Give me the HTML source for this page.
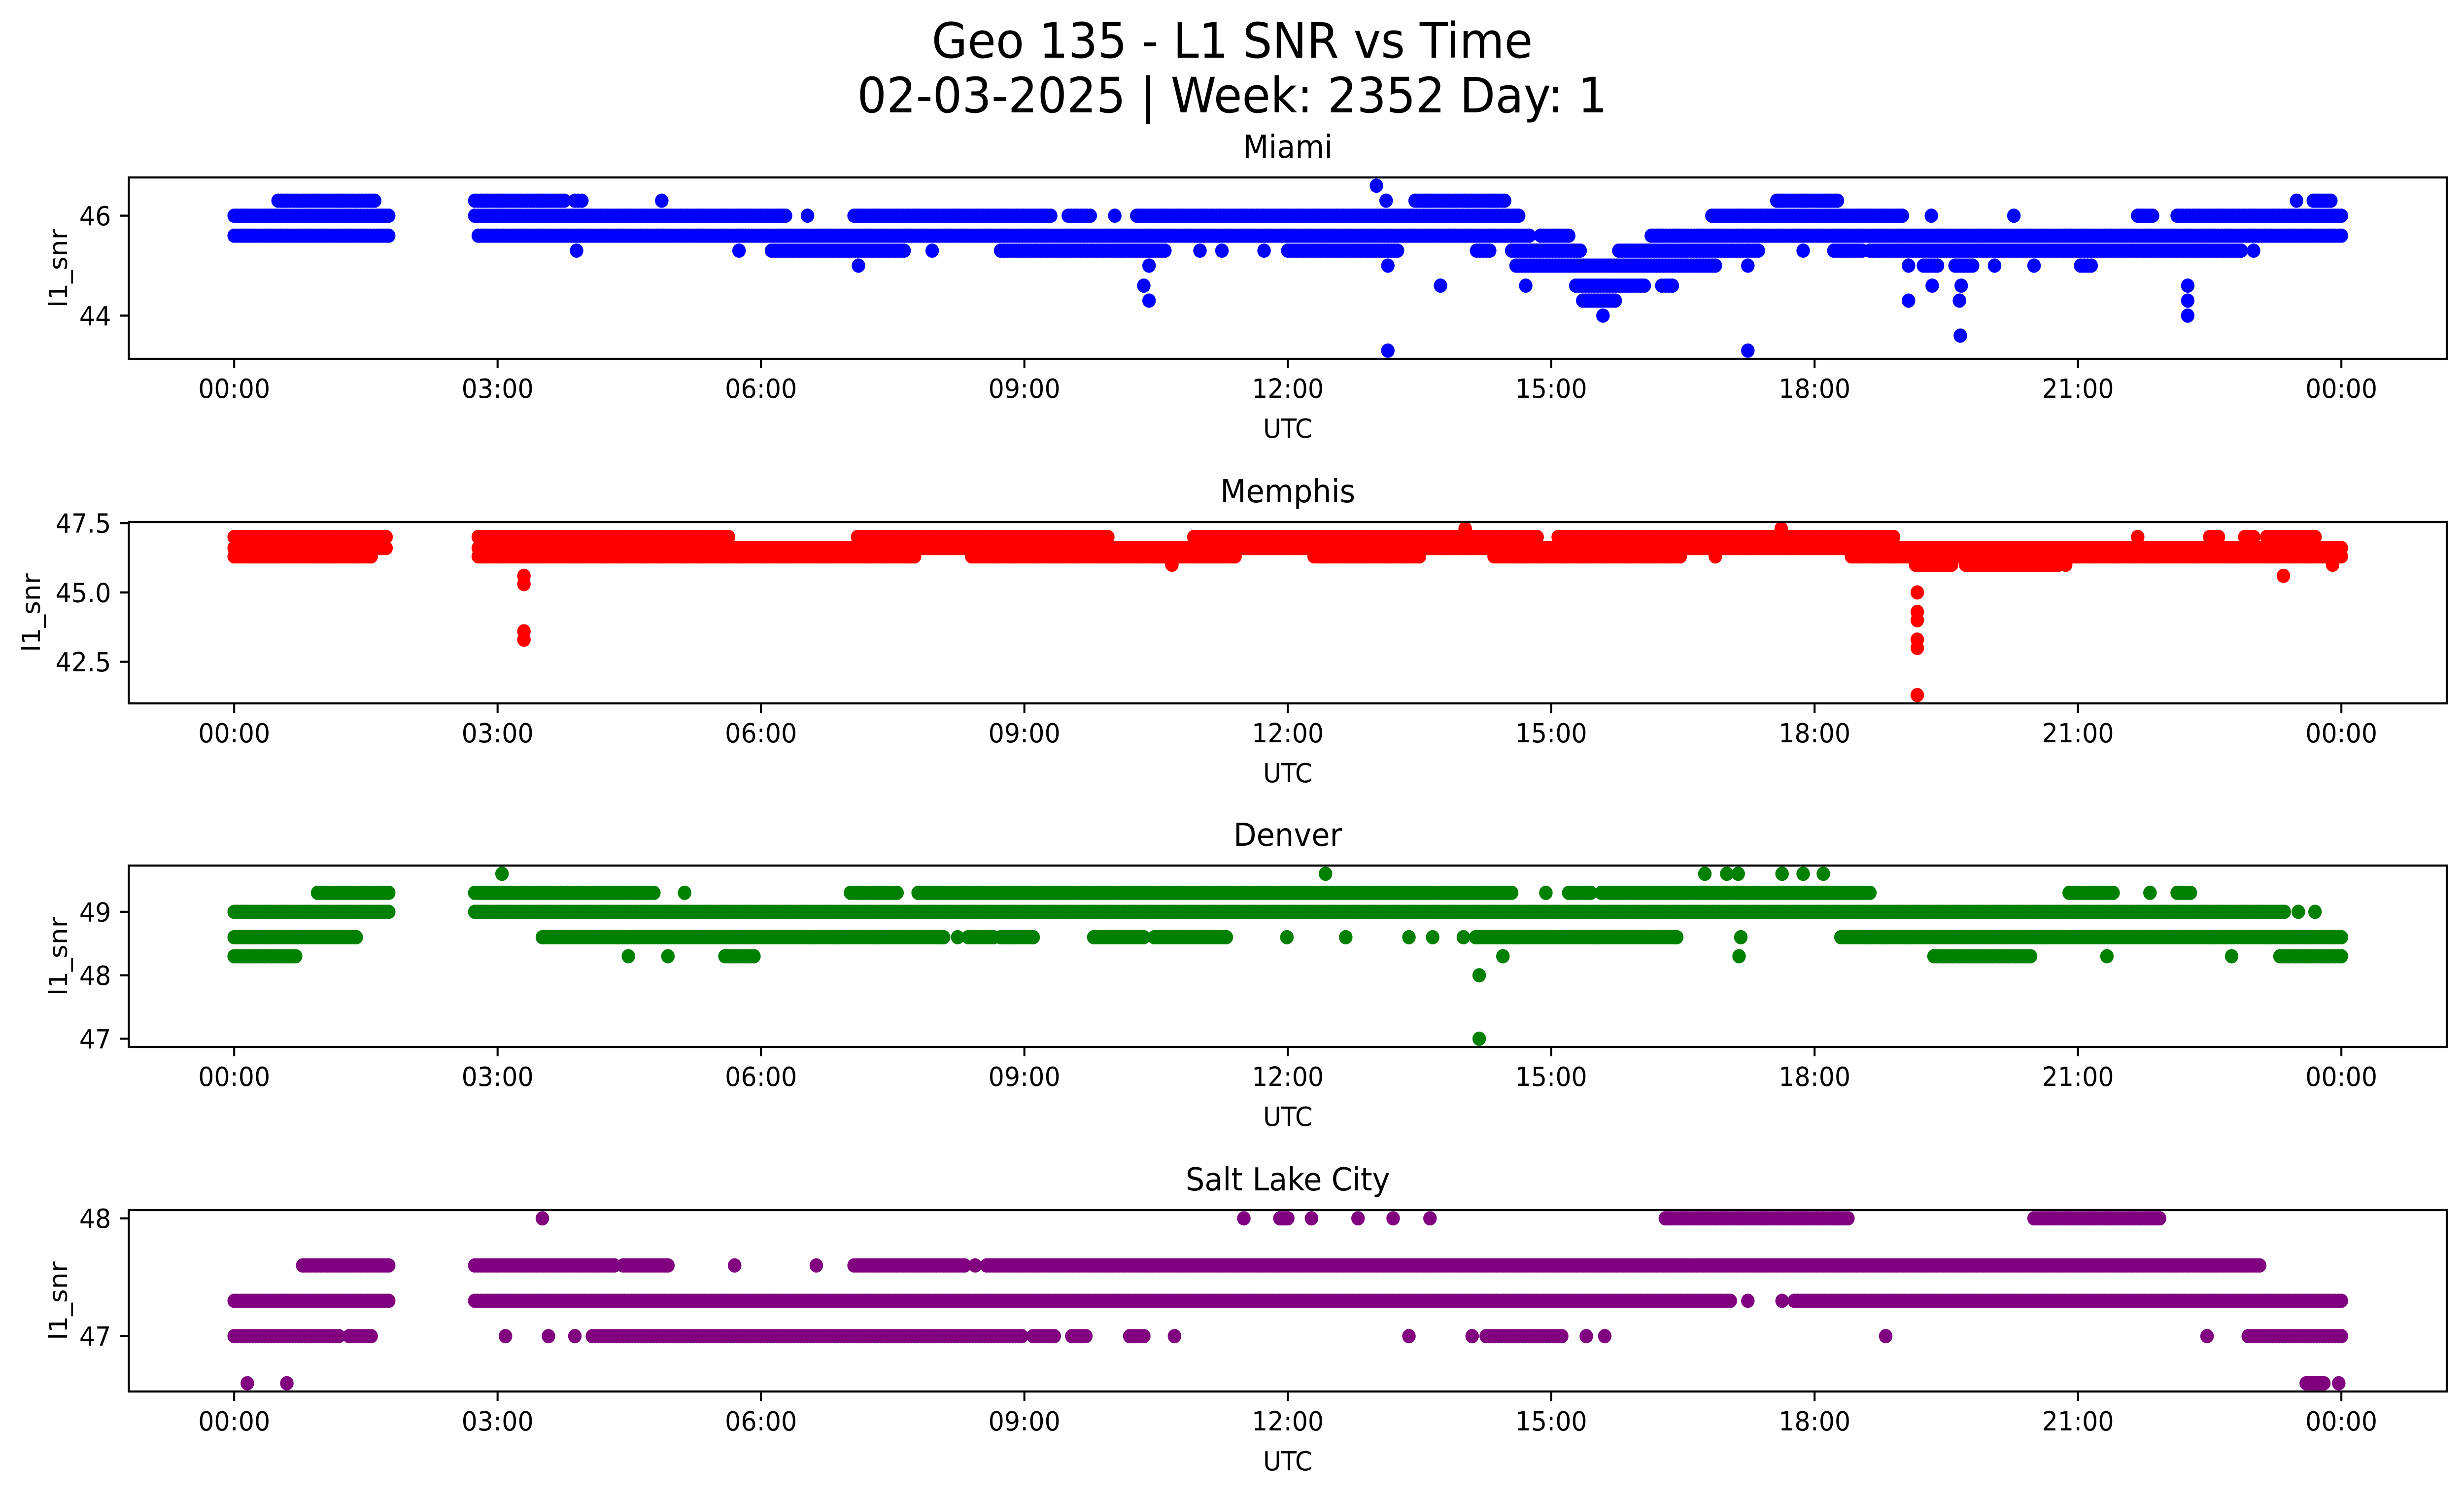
<!DOCTYPE html>
<html><head><meta charset="utf-8"><title>Geo 135 - L1 SNR vs Time</title>
<style>
html,body{margin:0;padding:0;background:#fff;overflow:hidden;width:100%;height:100%;}
svg{display:block;width:100vw;height:100vh;font-family:"DejaVu Sans","Liberation Sans",sans-serif;}
</style></head>
<body>
<svg id="fig" xmlns="http://www.w3.org/2000/svg" viewBox="0 0 5279 3033" preserveAspectRatio="none">
<rect x="0" y="0" width="5279" height="3033" fill="#fff"/>
<text x="2640" y="117" font-size="99" text-anchor="middle" fill="#000">Geo 135 - L1 SNR vs Time</text>
<text x="2640" y="228" font-size="99" text-anchor="middle" fill="#000">02-03-2025 | Week: 2352 Day: 1</text>
</svg>
<script>
// ---- Data (hours UTC, SNR dB) ----
const xTickHours = [0,3,6,9,12,15,18,21,24];
const xTickLabels = ["00:00","03:00","06:00","09:00","12:00","15:00","18:00","21:00","00:00"];

const miamiStart = [0.5,2.74,3.88,4.87,13.12,13.45,17.57,23.49,23.68, 13.01,
 0,2.74,6.53,7.06,9.5,10.03,10.28,16.83,19.33,20.27,21.68,22.13,
 0,2.78,14.88,16.14,
 3.9,5.75,6.12,7.95,8.73,11.0,11.25,11.73,12.0,14.15,14.55,15.77,17.87,18.22,18.63,23.0,
 7.11,10.42,13.14,14.6,17.24,19.07,19.24,19.6,20.05,20.5,21.03,
 10.36,13.74,14.71,15.28,16.26,19.34,19.67,22.25,
 10.42,15.36,19.07,19.65,22.25,
 15.59,22.25, 19.66, 13.14,17.24];
const miamiEnd = [1.6,3.76,3.96,4.87,13.12,14.47,18.26,23.49,23.88, 13.01,
 1.76,6.28,6.53,9.3,9.75,10.03,14.63,19.0,19.33,20.27,21.85,24.0,
 1.76,14.75,15.2,24.0,
 3.9,5.75,7.63,7.95,10.6,11.0,11.25,11.73,13.25,14.3,15.33,17.36,17.87,18.54,22.86,23.0,
 7.11,10.42,13.14,16.87,17.24,19.07,19.4,19.8,20.05,20.5,21.15,
 10.36,13.74,14.71,16.06,16.38,19.34,19.67,22.25,
 10.42,15.73,19.07,19.65,22.25,
 15.59,22.25, 19.66, 13.14,17.24];
const miamiValue = [46.3,46.3,46.3,46.3,46.3,46.3,46.3,46.3,46.3, 46.6,
 46.0,46.0,46.0,46.0,46.0,46.0,46.0,46.0,46.0,46.0,46.0,46.0,
 45.6,45.6,45.6,45.6,
 45.3,45.3,45.3,45.3,45.3,45.3,45.3,45.3,45.3,45.3,45.3,45.3,45.3,45.3,45.3,45.3,
 45.0,45.0,45.0,45.0,45.0,45.0,45.0,45.0,45.0,45.0,45.0,
 44.6,44.6,44.6,44.6,44.6,44.6,44.6,44.6,
 44.3,44.3,44.3,44.3,44.3,
 44.0,44.0, 43.6, 43.3,43.3];

const memphisStart = [14.02,17.62,
 0,2.78,7.1,10.93,15.08,21.68,22.5,22.9,23.15,
 0,2.78,
 0,2.78,8.4,12.3,14.35,16.87,18.42,
 10.68,19.15,19.72,20.86,23.9,
 23.34,3.3, 3.3, 19.17,19.17,19.17,3.3,3.3,19.17,19.17,19.17];
const memphisEnd = [14.02,17.62,
 1.73,5.63,9.95,14.84,18.9,21.68,22.6,23.0,23.7,
 1.73,24.0,
 1.56,7.75,11.4,13.5,16.47,16.87,24.0,
 10.68,19.56,20.78,20.86,23.9,
 23.34,3.3, 3.3, 19.17,19.17,19.17,3.3,3.3,19.17,19.17,19.17];
const memphisValue = [47.3,47.3,
 47.0,47.0,47.0,47.0,47.0,47.0,47.0,47.0,47.0,
 46.6,46.6,
 46.3,46.3,46.3,46.3,46.3,46.3,46.3,
 46.0,46.0,46.0,46.0,46.0,
 45.6,45.6, 45.3, 45.0,44.3,44.0,43.6,43.3,43.3,43.0,41.3];

const denverStart = [3.05,12.43,16.75,17.0,17.13,17.63,17.87,18.1,
 0.95,2.74,5.13,7.02,7.79,14.94,15.2,15.57,20.9,21.82,22.13,
 0,2.74,23.51,23.7,
 0,3.51,8.24,8.36,8.73,9.79,10.48,11.99,12.66,13.38,13.65,14.0,14.14,17.16,18.3,
 0,4.49,4.94,5.59,14.45,17.14,19.36,21.33,22.75,23.3,
 14.18,14.18];
const denverEnd = [3.05,12.43,16.75,17.0,17.13,17.63,17.87,18.1,
 1.76,4.78,5.13,7.55,14.55,14.94,15.45,18.63,21.4,21.82,22.28,
 1.76,23.35,23.51,23.7,
 1.39,8.08,8.24,8.65,9.1,10.36,11.3,12.0,12.66,13.38,13.65,14.0,16.43,17.16,24.0,
 0.7,4.49,4.94,5.92,14.45,17.14,20.46,21.33,22.75,24.0,
 14.18,14.18];
const denverValue = [49.6,49.6,49.6,49.6,49.6,49.6,49.6,49.6,
 49.3,49.3,49.3,49.3,49.3,49.3,49.3,49.3,49.3,49.3,49.3,
 49.0,49.0,49.0,49.0,
 48.6,48.6,48.6,48.6,48.6,48.6,48.6,48.6,48.6,48.6,48.6,48.6,48.6,48.6,48.6,
 48.3,48.3,48.3,48.3,48.3,48.3,48.3,48.3,48.3,48.3,
 48.0,47.0];

const slcStart = [3.51,11.5,11.91,12.27,12.8,13.2,13.62,16.3,20.5,
 0.78,2.74,4.43,5.7,6.63,7.06,8.44,8.57,
 0,2.74,17.24,17.63,17.77,
 0,1.31,3.09,3.58,3.88,4.08,9.1,9.54,10.2,10.71,13.38,14.1,14.26,15.4,15.61,18.81,22.47,22.94,
 0.15,0.6,23.6,23.97];
const slcEnd = [3.51,11.5,12.0,12.27,12.8,13.2,13.62,18.38,21.93,
 1.76,4.33,4.94,5.7,6.63,8.32,8.44,23.07,
 1.76,17.04,17.24,17.63,24.0,
 1.19,1.56,3.09,3.58,3.88,8.97,9.34,9.7,10.36,10.71,13.38,14.1,15.12,15.4,15.61,18.81,22.47,24.0,
 0.15,0.6,23.8,23.97];
const slcValue = [48.0,48.0,48.0,48.0,48.0,48.0,48.0,48.0,48.0,
 47.6,47.6,47.6,47.6,47.6,47.6,47.6,47.6,
 47.3,47.3,47.3,47.3,47.3,
 47.0,47.0,47.0,47.0,47.0,47.0,47.0,47.0,47.0,47.0,47.0,47.0,47.0,47.0,47.0,47.0,47.0,47.0,
 46.6,46.6,46.6,46.6];

const miamiYTicks = [44,46];
const miamiYLabels = ["44","46"];
const memphisYTicks = [42.5,45.0,47.5];
const memphisYLabels = ["42.5","45.0","47.5"];
const denverYTicks = [47,48,49];
const denverYLabels = ["47","48","49"];
const slcYTicks = [47,48];
const slcYLabels = ["47","48"];

// ---- Layout ----
const NS = "http://www.w3.org/2000/svg";
const svg = document.getElementById('fig');
const AX_L = 276, AX_R = 5242, AX_H = 368;
const X_MIN = -1.2, X_MAX = 25.2;
const R = 14.5, STEP = 0.035;

const panels = [
  {key:'miami', title:'Miami', top:360, ymin:43.135, ymax:46.765, color:'#0000ff', start:miamiStart, end:miamiEnd, val:miamiValue, yt:miamiYTicks, yl:miamiYLabels, ylabX:125},
  {key:'memphis', title:'Memphis', top:1059, ymin:41.0, ymax:47.54, color:'#ff0000', start:memphisStart, end:memphisEnd, val:memphisValue, yt:memphisYTicks, yl:memphisYLabels, ylabX:67},
  {key:'denver', title:'Denver', top:1756, ymin:46.87, ymax:49.73, color:'#008000', start:denverStart, end:denverEnd, val:denverValue, yt:denverYTicks, yl:denverYLabels, ylabX:125},
  {key:'salt-lake-city', title:'Salt Lake City', top:2455, ymin:46.53, ymax:48.07, color:'#800080', start:slcStart, end:slcEnd, val:slcValue, yt:slcYTicks, yl:slcYLabels, ylabX:125}
];

function mk(tag, attrs, parent){
  const e = document.createElementNS(NS, tag);
  for (const k in attrs) e.setAttribute(k, attrs[k]);
  (parent||svg).appendChild(e);
  return e;
}
function xScale(h){ return AX_L + (h - X_MIN) / (X_MAX - X_MIN) * (AX_R - AX_L); }

panels.forEach((p, pi) => {
  const top = p.top, bot = top + AX_H;
  const yScale = v => bot - (v - p.ymin) / (p.ymax - p.ymin) * AX_H;
  const g = mk('g', {});
  
  

  const clip = mk('clipPath', {id:'clip'+pi}, g);
  mk('rect', {x:AX_L, y:top, width:AX_R-AX_L, height:AX_H}, clip);

  const pts = mk('g', {'clip-path':'url(#clip'+pi+')', fill:p.color}, g);
  
  
  for (let i = 0; i < p.start.length; i++) {
    const s = p.start[i], e = p.end[i], v = p.val[i];
    const cy = yScale(v);
    const n = Math.max(0, Math.round((e - s) / STEP));
    for (let k = 0; k <= n; k++) {
      const t = n === 0 ? s : s + (e - s) * k / n;
      mk('circle', {cx:xScale(t).toFixed(1), cy:cy.toFixed(1), r:R}, pts);
    }
  }

  const fr = mk('rect', {x:AX_L, y:top, width:AX_R-AX_L, height:AX_H, fill:'none', stroke:'#000', 'stroke-width':4.3}, g);
  
  

  const tt = mk('text', {x:(AX_L+AX_R)/2, y:top-40, 'font-size':64, 'text-anchor':'middle', fill:'#000'}, g);
  tt.textContent = p.title;
  
  

  const xt = mk('g', {}, g);
  
  
  xTickHours.forEach((h, i) => {
    const x = xScale(h);
    mk('line', {x1:x, y1:bot, x2:x, y2:bot+19, stroke:'#000', 'stroke-width':4.3}, xt);
    const lt = mk('text', {x:x, y:bot+79, 'font-size':53.5, 'text-anchor':'middle', fill:'#000'}, xt);
    lt.textContent = xTickLabels[i];
    
    
  });
  const xl = mk('text', {x:(AX_L+AX_R)/2, y:bot+160, 'font-size':53.5, 'text-anchor':'middle', fill:'#000'}, g);
  xl.textContent = 'UTC';
  
  

  const yt = mk('g', {}, g);
  
  
  p.yt.forEach((v, i) => {
    const y = yScale(v);
    mk('line', {x1:AX_L-19, y1:y, x2:AX_L, y2:y, stroke:'#000', 'stroke-width':4.3}, yt);
    const lt = mk('text', {x:AX_L-38, y:y+19.5, 'font-size':53.5, 'text-anchor':'end', fill:'#000'}, yt);
    lt.textContent = p.yl[i];
    
    
  });
  const cy = top + AX_H/2;
  const yl = mk('text', {x:p.ylabX, y:cy, 'font-size':53.5, 'text-anchor':'middle', fill:'#000', transform:'rotate(-90 '+p.ylabX+' '+cy+')', dy:'0.35em'}, g);
  yl.textContent = 'l1_snr';
  
  
});
</script>
</body></html>
